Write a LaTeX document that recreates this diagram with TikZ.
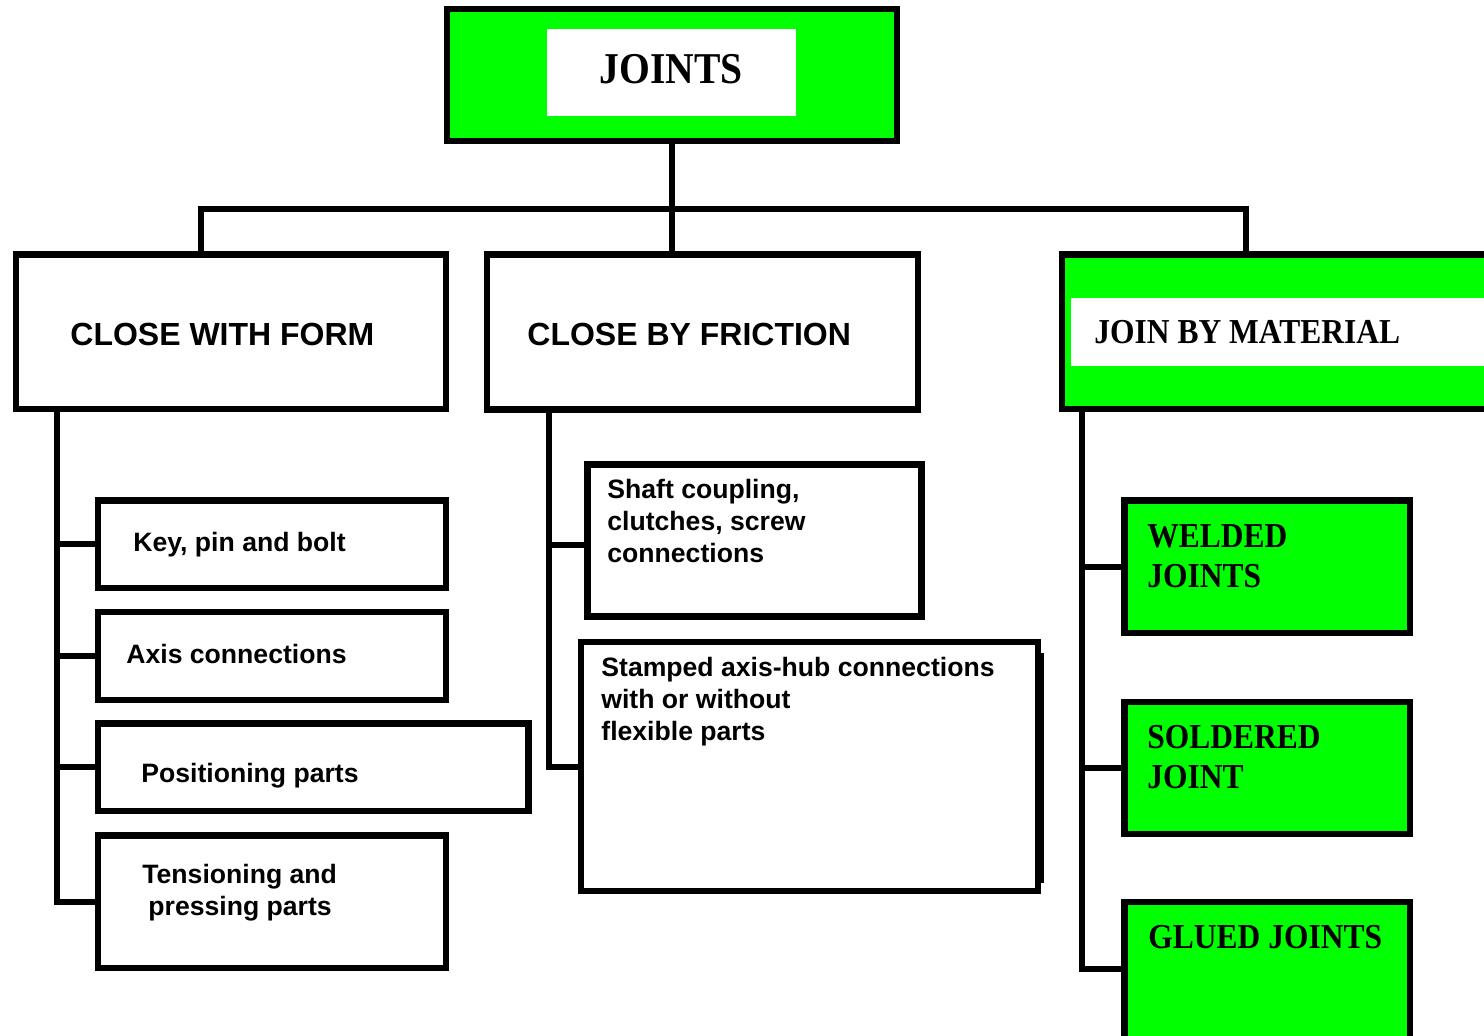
\documentclass[tikz,border=0pt]{standalone}
\usepackage{fontspec}
\newfontfamily\sansB{Liberation Sans}
\newfontfamily\serifB[FakeStretch=0.9]{Liberation Serif}
\definecolor{jgreen}{RGB}{0,255,0}
\begin{document}
\begin{tikzpicture}[x=0.5pt,y=-0.5pt,
  ubox/.style={rectangle,draw=black,line width=3.25pt,fill=white,inner sep=0pt},
  gbox/.style={ubox,fill=jgreen},
  wstrip/.style={rectangle,fill=white,draw=none,inner sep=0pt},
  conn/.style={draw=black,line width=3pt},
  st/.style={anchor=base west,inner sep=0pt,font=\sansB\bfseries\fontsize{13.3}{16}\selectfont},
  bt/.style={anchor=base west,inner sep=0pt,font=\sansB\bfseries\fontsize{16}{19}\selectfont},
  rt/.style={anchor=base west,inner sep=0pt,font=\serifB\bfseries\fontsize{17.5}{20}\selectfont},
  jt/.style={anchor=base,inner sep=0pt,font=\serifB\bfseries\fontsize{22}{24}\selectfont}
]
\useasboundingbox (0,0) rectangle (1484,1035);
\clip (0,0) rectangle (1484,1035);

% top
\node[gbox,minimum width=225pt,minimum height=66pt] (joints) at (672,75) {};
\node[wstrip,minimum width=124.5pt,minimum height=43.5pt] (jw) at (671.5,72.5) {};
\node[jt] (tjoints) at (671.5,83) {JOINTS};

% level 1
\node[ubox,minimum width=215pt,minimum height=77.25pt] (form) at (231,331.75) {};
\node[ubox,minimum width=215.5pt,minimum height=77.5pt] (fric) at (702.5,332) {};
\node[gbox,minimum width=219pt,minimum height=77.25pt] (mat) at (1281,331.75) {};
\node[wstrip,minimum width=214.5pt,minimum height=34pt] (mw) at (1285.5,332) {};

% left column
\node[ubox,minimum width=174pt,minimum height=43.75pt] (key) at (272,544.25) {};
\node[ubox,minimum width=174pt,minimum height=44pt] (axis) at (272,656) {};
\node[ubox,minimum width=215.25pt,minimum height=43.75pt] (pos) at (313.25,767.25) {};
\node[ubox,minimum width=174pt,minimum height=66.25pt] (tens) at (272,901.75) {};

% middle column
\node[ubox,minimum width=167pt,minimum height=76pt] (shaft) at (754.5,540.5) {};
\node[ubox,minimum width=228.5pt,minimum height=124.5pt] (stamp) at (809.5,766.5) {};
\draw[line width=2pt] (1042,653) -- (1042,883);

% right column
\node[gbox,minimum width=142.75pt,minimum height=66.25pt] (weld) at (1267.25,566.75) {};
\node[gbox,minimum width=142.75pt,minimum height=66pt] (sold) at (1267.25,768) {};
\node[gbox,minimum width=142.75pt,minimum height=74pt] (glue) at (1267.25,976) {};

% connectors
\coordinate (bar) at (672,209);
\coordinate (busL) at (201,209);
\coordinate (busR) at (1246,209);
\draw[conn] (joints.south) -- (bar |- fric.north);
\draw[conn] (busL |- form.north) -- (busL) -- (busR) -- (busR |- mat.north);

\coordinate (lc) at (57,409);
\draw[conn] (lc) |- (tens.west);
\draw[conn] (lc |- key.west) -- (key.west);
\draw[conn] (lc |- axis.west) -- (axis.west);
\draw[conn] (lc |- pos.west) -- (pos.west);

\coordinate (mc) at (549,409);
\coordinate (mb) at (549,544.5);
\draw[conn] (mc) |- (stamp.west);
\draw[conn] (mb) -- (mb -| shaft.west);

\coordinate (rc) at (1081.5,409);
\coordinate (rend) at (1081.5,968.5);
\draw[conn] (rc) -- (rend) -- (rend -| glue.west);
\draw[conn] (rc |- weld.west) -- (weld.west);
\draw[conn] (rc |- sold.west) -- (sold.west);

% texts
\node[bt] (tform) at (70,345) {CLOSE WITH FORM};
\node[bt] (tfric) at (527,345) {CLOSE BY FRICTION};
\node[rt] (tmat) at (1094,343) {JOIN BY MATERIAL};

\node[st] (tkey) at (133,551) {Key, pin and bolt};
\node[st] (taxis) at (126,663) {Axis connections};
\node[st] (tpos) at (141,782) {Positioning parts};
\node[st] (ttens) at (142,883) {\begin{tabular}[t]{@{}l@{}}Tensioning and\\\hspace{3pt}pressing parts\end{tabular}};

\node[st] (tshaft) at (607,498) {\begin{tabular}[t]{@{}l@{}}Shaft coupling,\\clutches, screw\\connections\end{tabular}};
\node[st] (tstamp) at (601,676) {\begin{tabular}[t]{@{}l@{}}Stamped axis-hub connections\\with\ or without\\flexible parts\end{tabular}};

\node[rt] (tweld) at (1147,547) {\begin{tabular}[t]{@{}l@{}}WELDED\\JOINTS\end{tabular}};
\node[rt] (tsold) at (1147,748) {\begin{tabular}[t]{@{}l@{}}SOLDERED\\JOINT\end{tabular}};
\node[rt] (tglue) at (1148,948) {GLUED JOINTS};
\end{tikzpicture}
\end{document}
